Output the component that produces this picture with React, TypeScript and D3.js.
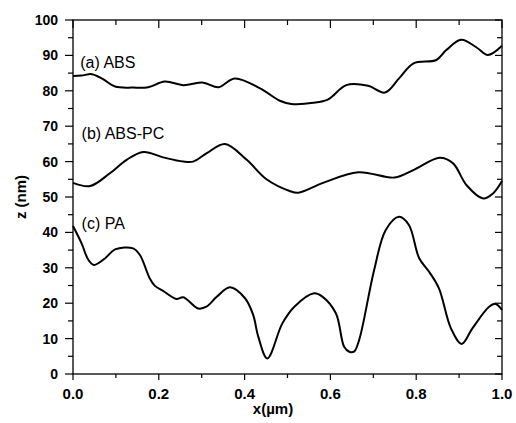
import React from 'react';
import * as d3 from 'd3';

// profile data (x in µm, z in nm)
const absX = [0, 0.02, 0.044, 0.07, 0.098, 0.14, 0.175, 0.214, 0.257, 0.304, 0.339, 0.377, 0.436, 0.482, 0.509, 0.56, 0.595, 0.637, 0.688, 0.727, 0.76, 0.793, 0.847, 0.87, 0.905, 0.94, 0.967, 1.0];
const absZ = [84.2, 84.3, 84.7, 83.3, 81.2, 80.9, 81.0, 82.6, 81.6, 82.3, 81.0, 83.5, 80.7, 77.2, 76.3, 76.6, 77.6, 81.6, 81.4, 79.5, 83.5, 87.7, 88.7, 91.5, 94.4, 92.3, 90.1, 92.7];

const abspcX = [0, 0.04, 0.086, 0.125, 0.164, 0.21, 0.257, 0.28, 0.311, 0.354, 0.405, 0.451, 0.505, 0.525, 0.583, 0.665, 0.75, 0.793, 0.855, 0.886, 0.917, 0.956, 0.979, 1.0];
const abspcZ = [54.0, 53.1, 56.7, 60.5, 62.7, 61.2, 60.0, 60.0, 62.3, 65.0, 60.5, 55.0, 51.7, 51.2, 54.0, 57.0, 55.5, 57.6, 61.1, 59.5, 53.4, 49.6, 51.0, 54.5];

const paX = [0, 0.02, 0.036, 0.049, 0.075, 0.098, 0.14, 0.156, 0.179, 0.191, 0.21, 0.241, 0.257, 0.292, 0.311, 0.335, 0.366, 0.401, 0.42, 0.432, 0.453, 0.488, 0.516, 0.562, 0.582, 0.613, 0.632, 0.644, 0.655, 0.667, 0.702, 0.729, 0.76, 0.783, 0.807, 0.83, 0.853, 0.881, 0.906, 0.931, 0.97, 0.985, 1.0];
const paZ = [41.8, 36.9, 32.2, 30.8, 32.7, 35.2, 35.5, 33.6, 27.0, 24.9, 23.5, 21.2, 21.7, 18.5, 19.0, 21.8, 24.5, 21.4, 16.7, 10.5, 4.4, 14.3, 19.0, 22.8, 21.8, 17.1, 7.7, 6.3, 6.3, 9.6, 29.4, 40.7, 44.4, 42.1, 32.7, 28.9, 24.2, 12.9, 8.5, 12.9, 19.0, 19.8, 18.1];

const seriesLabels = ['(a) ABS', '(b) ABS-PC', '(c) PA'];
const xTicks = [0, 0.2, 0.4, 0.6, 0.8, 1.0];
const yTicks = [0, 10, 20, 30, 40, 50, 60, 70, 80, 90, 100];

const W = 516, H = 423;
const left = 73, right = 502, top = 20, bottom = 374;

export default function App() {
  const x = d3.scaleLinear().domain([0, 1]).range([left, right]);
  const y = d3.scaleLinear().domain([0, 100]).range([bottom, top]);

  const line = d3.line<[number, number]>()
    .x(d => x(d[0]))
    .y(d => y(d[1]))
    .curve(d3.curveCatmullRom.alpha(0.5));

  const series = [
    { xs: absX, zs: absZ },
    { xs: abspcX, zs: abspcZ },
    { xs: paX, zs: paZ },
  ];
  // label anchors (data coords)
  const labelPos = [[0.017, 86.5], [0.02, 66.4], [0.02, 41.1]];

  const minorX = d3.range(0, 1.001, 0.1);
  const minorY = d3.range(0, 100.1, 5);
  const font = '"Liberation Sans", Arial, sans-serif';

  return (
    <svg width={W} height={H} style={{ position: 'absolute', left: 0, top: 0, background: '#fff' }}
      fontFamily={font}>
      <rect x={0} y={0} width={W} height={H} fill="#fff" />
      {/* ticks */}
      {minorX.map((v, i) => {
        const major = i % 2 === 0;
        return (
          <g key={'tx' + i} stroke="#000" strokeWidth={1.2}>
            <line x1={x(v)} x2={x(v)} y1={bottom} y2={bottom + (major ? 6 : 4)} />
            <line x1={x(v)} x2={x(v)} y1={top} y2={top + (major ? 8 : 5)} />
          </g>
        );
      })}
      {minorY.map((v, i) => {
        const major = i % 2 === 0;
        return (
          <g key={'ty' + i} stroke="#000" strokeWidth={1.2}>
            <line x1={left - (major ? 8 : 5)} x2={left} y1={y(v)} y2={y(v)} />
            <line x1={right - (major ? 7 : 5)} x2={right} y1={y(v)} y2={y(v)} />
          </g>
        );
      })}
      <rect x={left} y={top} width={right - left} height={bottom - top} fill="none" stroke="#000" strokeWidth={1.3} />

      {xTicks.map(v => (
        <text key={'lx' + v} x={x(v)} y={399} textAnchor="middle" fontSize={15} fontWeight="bold">
          {v.toFixed(1)}
        </text>
      ))}
      {yTicks.map(v => (
        <text key={'ly' + v} x={58} y={y(v)} dy="0.36em" textAnchor="end" fontSize={14} fontWeight="bold">
          {v}
        </text>
      ))}

      {series.map((s, i) => (
        <path key={'s' + i} d={line(s.xs.map((v, j) => [v, s.zs[j]]) as [number, number][]) || ''}
          fill="none" stroke="#000" strokeWidth={2} strokeLinejoin="round" />
      ))}

      {seriesLabels.map((t, i) => (
        <text key={'sl' + i} x={x(labelPos[i][0])} y={y(labelPos[i][1])} fontSize={16}>{t}</text>
      ))}

      <text x={273} y={414} textAnchor="middle" fontSize={15} fontWeight="bold">x(µm)</text>
      <text transform={`translate(26,${(top + bottom) / 2}) rotate(-90)`} textAnchor="middle" fontSize={15} fontWeight="bold">z (nm)</text>
    </svg>
  );
}
